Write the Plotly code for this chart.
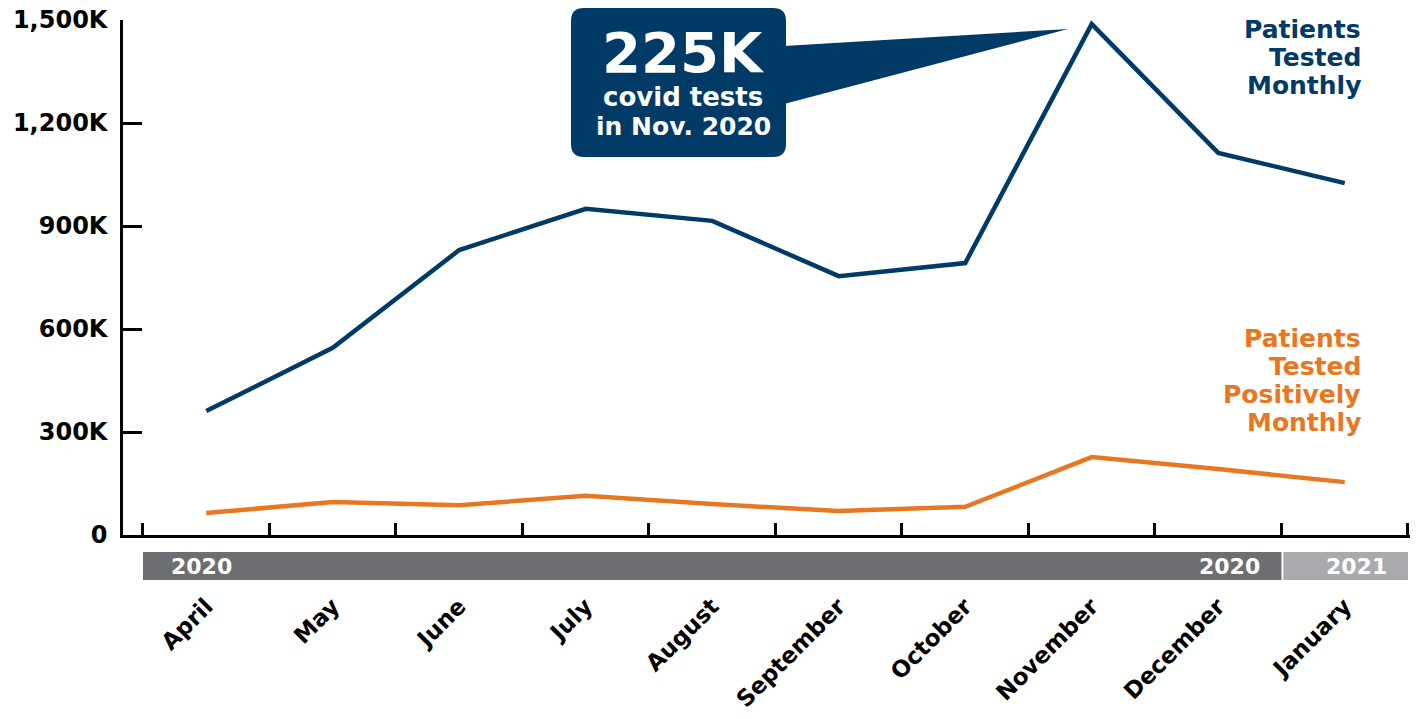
import plotly.graph_objects as go

months = ["April", "May", "June", "July", "August", "September",
          "October", "November", "December", "January"]
tested = [361, 545, 830, 950, 915, 754, 792, 1488, 1113, 1025]      # thousands
positive = [64, 96, 87, 114, 90, 70, 82, 227, 192, 154]             # thousands
y_ticks = [0, 300, 600, 900, 1200, 1500]
y_tick_text = ["0", "300K", "600K", "900K", "1,200K", "1,500K"]
tested_label = ["Patients", "Tested", "Monthly"]
positive_label = ["Patients", "Tested", "Positively", "Monthly"]
callout_lines = ["225K", "covid tests", "in Nov. 2020"]

NAVY = "#003a66"
ORANGE = "#e87722"
DARK_GRAY = "#6d6e71"
LIGHT_GRAY = "#a9aaad"
FONT = "DejaVu Sans"

W, H = 1416, 719
L, R, T, B = 123, 6, 20, 184
PW, PH = W - L - R, H - T - B


def px(x):
    return (x - L) / PW


def py(y):
    return (H - B - y) / PH


fig = go.Figure()
fig.add_trace(go.Scatter(x=months, y=tested, mode="lines",
                         line=dict(color=NAVY, width=4.5), hoverinfo="skip"))
fig.add_trace(go.Scatter(x=months, y=positive, mode="lines",
                         line=dict(color=ORANGE, width=4.5), hoverinfo="skip"))

shapes = []
# year bars
shapes.append(dict(type="rect", xref="x", yref="paper", x0=-0.5, x1=8.5,
                   y0=py(580), y1=py(552), fillcolor=DARK_GRAY, line_width=0, layer="below"))
shapes.append(dict(type="rect", xref="x", yref="paper", x0=8.515, x1=9.5,
                   y0=py(580), y1=py(552), fillcolor=LIGHT_GRAY, line_width=0, layer="below"))

# callout box (rounded) and pointer
bx0, bx1, by0, by1, r = 571, 786, 8, 157, 13


def P(x, y):
    return f"{px(x):.5f},{py(y):.5f}"


path = (f"M {P(bx0 + r, by0)} L {P(bx1 - r, by0)} Q {P(bx1, by0)} {P(bx1, by0 + r)} "
        f"L {P(bx1, by1 - r)} Q {P(bx1, by1)} {P(bx1 - r, by1)} "
        f"L {P(bx0 + r, by1)} Q {P(bx0, by1)} {P(bx0, by1 - r)} "
        f"L {P(bx0, by0 + r)} Q {P(bx0, by0)} {P(bx0 + r, by0)} Z")
shapes.append(dict(type="path", xref="paper", yref="paper", path=path,
                   fillcolor=NAVY, line_width=0))
tri = f"M {P(784, 46)} L {P(1068, 29)} L {P(784, 104)} Z"
shapes.append(dict(type="path", xref="paper", yref="paper", path=tri,
                   fillcolor=NAVY, line_width=0))

annotations = []
# callout text
for txt, yc, size in zip(callout_lines, [52, 97, 127], [56, 26, 25]):
    annotations.append(dict(text=txt, xref="paper", yref="paper", x=px(683), y=py(yc),
                            xanchor="center", yanchor="middle", showarrow=False,
                            font=dict(family=FONT, size=size, color="white", weight="bold")))
# series labels
for i, txt in enumerate(tested_label):
    annotations.append(dict(text=txt, xref="paper", yref="paper", x=px(1363), y=py(29 + 28 * i),
                            xanchor="right", yanchor="middle", showarrow=False,
                            font=dict(family=FONT, size=25, color=NAVY, weight="bold")))
for i, txt in enumerate(positive_label):
    annotations.append(dict(text=txt, xref="paper", yref="paper", x=px(1363), y=py(338 + 28.3 * i),
                            xanchor="right", yanchor="middle", showarrow=False,
                            font=dict(family=FONT, size=25, color=ORANGE, weight="bold")))
# year labels
for txt, xc in [("2020", 201), ("2020", 1229), ("2021", 1356)]:
    annotations.append(dict(text=txt, xref="paper", yref="paper", x=px(xc), y=py(566),
                            xanchor="center", yanchor="middle", showarrow=False,
                            font=dict(family=FONT, size=22, color="white", weight="bold")))

fig.update_layout(
    width=W, height=H,
    margin=dict(l=L, r=R, t=T, b=B, autoexpand=False),
    paper_bgcolor="white", plot_bgcolor="white",
    showlegend=False,
    shapes=shapes,
    annotations=annotations,
    font=dict(family=FONT, color="black"),
    xaxis=dict(type="category", range=[-0.658, 9.516], showgrid=False, zeroline=False,
               automargin=False,
               showline=True, linecolor="black", linewidth=2.5,
               tickson="boundaries", ticks="inside", ticklen=12, tickwidth=2.5, tickcolor="black",
               tickangle=-45, ticklabelstandoff=46,
               tickfont=dict(family=FONT, size=23, color="black", weight="bold")),
    yaxis=dict(range=[0, 1500], showgrid=False, zeroline=False,
               automargin=False,
               showline=True, linecolor="black", linewidth=2.5,
               tickmode="array", tickvals=y_ticks, ticktext=y_tick_text,
               ticks="inside", ticklen=19, tickwidth=2.5, tickcolor="black",
               ticklabelstandoff=8,
               tickfont=dict(family=FONT, size=24, color="black", weight="bold")),
)

fig.write_html("out.html")
